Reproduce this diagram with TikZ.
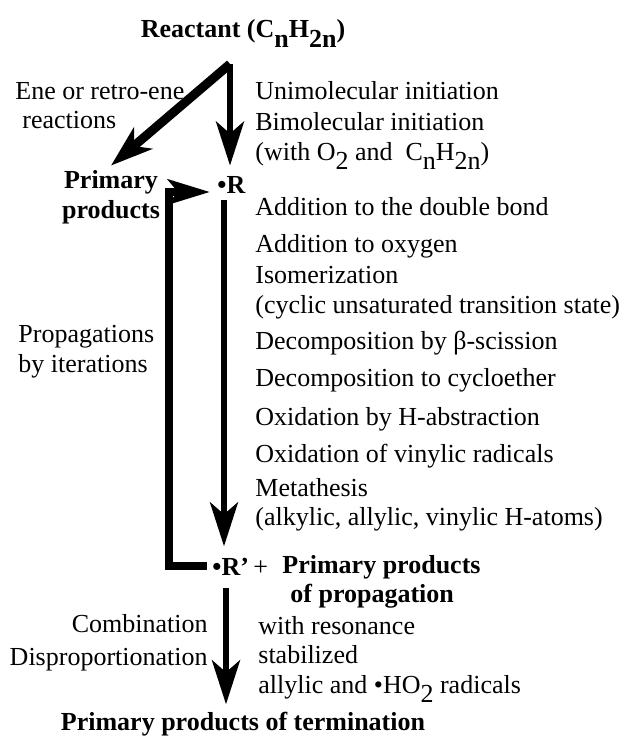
\documentclass[tikz,border=0pt]{standalone}
\usepackage{fontspec}
\setmainfont{Liberation Serif}
\usetikzlibrary{arrows.meta}
\newcommand{\lowsub}[1]{\raisebox{-0.38em}{#1}}
\begin{document}
\begin{tikzpicture}[x=0.5pt,y=-0.5pt,
	every node/.style={inner sep=0pt,font=\fontsize{13}{15}\selectfont},
	lbl/.style={anchor=base west},
	bold/.style={font=\fontsize{13}{15}\selectfont\bfseries},
	fat/.style={line width=#1,-{Stealth[length=22pt,width=14pt,inset=6pt]}}]
	\useasboundingbox (0,0) rectangle (630,738);
	\node[bold,anchor=base] (reactant) at (243,38) {Reactant (C\lowsub{n}H\lowsub{2n})};
	\node[lbl] (ene1) at (15,100) {Ene or retro-ene};
	\node[lbl] (ene2) at (22,128) {reactions};
	\node[lbl] (uni) at (255,99) {Unimolecular initiation};
	\node[lbl] (bi) at (255,130) {Bimolecular initiation};
	\node[lbl] (with) at (255,160) {(with O\lowsub{2} and\ \ C\lowsub{n}H\lowsub{2n})};
	\node[bold,anchor=base] (prim1) at (111,188) {Primary};
	\node[bold,anchor=base] (prim2) at (111,218) {products};
	\node[bold,lbl] (R) at (217,193) {\textbullet R};
	\foreach \y/\txt [count=\i] in {215/Addition to the double bond,252/Addition to oxygen,
		283/Isomerization,313/{(cyclic unsaturated transition state)},349/Decomposition by β-scission,
		386/Decomposition to cycloether,425/Oxidation by H-abstraction,462/Oxidation of vinylic radicals,
		496/Metathesis,525/{(alkylic, allylic, vinylic H-atoms)}}
		\node[lbl] (p\i) at (255,\y) {\txt};
	\node[lbl] (prop1) at (18,342) {Propagations};
	\node[lbl] (prop2) at (18,372) {by iterations};
	\node[bold,lbl] (Rp) at (212,575) {\textbullet R’};
	\node[lbl] (plus) at (253,575) {+};
	\node[bold,lbl] (pp1) at (282,573) {Primary products};
	\node[bold,lbl] (pp2) at (290,602) {of propagation};
	\node[anchor=base east] (comb) at (208,632) {Combination};
	\node[anchor=base east] (disp) at (208,665) {Disproportionation};
	\node[lbl] (res1) at (258,634) {with resonance};
	\node[lbl] (res2) at (258,663) {stabilized};
	\node[lbl] (res3) at (258,693) {allylic and \textbullet HO\lowsub{2} radicals};
	\node[bold,anchor=base] (term) at (243,730) {Primary products of termination};
	\coordinate (split) at (230,64);
	\coordinate (spine) at (224,0);
	\coordinate (low) at (226,0);
	\coordinate (loop) at (169,192);
	\draw[line width=4.5pt,-{Stealth[length=21pt,width=14pt,inset=6pt]}] (split) -- ([yshift=2pt]prim1.north);
	\draw[fat=3pt,shorten >=5pt] (split) -- (R.north -| split);
	\draw[fat=2.75pt,shorten <=3.5pt,shorten >=5.5pt] (R.south -| spine) -- (Rp.north -| spine);
	\draw[line width=4pt,shorten <=2.5pt,shorten >=3.5pt,-{Stealth[length=21pt,width=12.5pt,inset=5pt]}]
		(Rp.west) -| (loop) -- (loop -| R.west);
	\draw[fat=3pt,shorten <=6.5pt,shorten >=3.5pt] (Rp.south -| low) -- (term.north -| low);
\end{tikzpicture}
\end{document}
